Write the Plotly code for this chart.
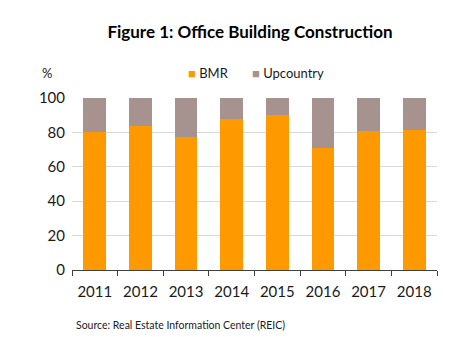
import plotly.graph_objects as go

years = ["2011", "2012", "2013", "2014", "2015", "2016", "2017", "2018"]
bmr = [80, 84, 77.5, 88, 90, 71, 81, 81.5]
upcountry = [round(100 - v, 1) for v in bmr]
series_names = ["BMR", "Upcountry"]
series_colors = ["#FF9900", "#A6928F"]

FONT = "Lato, 'Open Sans', sans-serif"

fig = go.Figure()
fig.add_trace(go.Bar(x=years, y=bmr, name=series_names[0], marker_color=series_colors[0],
                     marker_line_width=0))
fig.add_trace(go.Bar(x=years, y=upcountry, name=series_names[1], marker_color=series_colors[1],
                     marker_line_width=0))

fig.update_layout(
    barmode="stack",
    bargap=0.5,
    width=467, height=337,
    autosize=False,
    margin=dict(l=72, r=30, t=98, b=67, autoexpand=False),
    paper_bgcolor="white", plot_bgcolor="white",
    font=dict(family=FONT, color="#1a1a1a", size=15),
    title=dict(text="<b>Figure 1: Office Building Construction</b>",
               x=250/467, xanchor="center", xref="container",
               y=1 - 32/337, yanchor="middle", yref="container",
               font=dict(size=17, family=FONT, color="#000000")),
    showlegend=False,
)
fig.update_xaxes(showgrid=False, showline=True, linecolor="#404040", linewidth=1,
                 ticks="outside", tickson="boundaries", ticklen=5, tickcolor="#404040",
                 tickfont=dict(size=15), tickangle=0, automargin=False,
                 ticklabelstandoff=8)
fig.update_yaxes(range=[0, 100], dtick=20, showgrid=True, gridcolor="#d9d9d9",
                 gridwidth=1, zeroline=False, showline=False, tickfont=dict(size=15),
                 ticks="", ticklabelstandoff=6, automargin=False)

LEG_Y = (270 - 73) / 172
def px(xpix):
    return (xpix - 72) / 365

# legend drawn as text (colored squares + names)
leg_x = [186, 250]
for xp, name, col in zip(leg_x, series_names, series_colors):
    fig.add_annotation(text=f"<span style='color:{col}'>■</span> {name}",
                       xref="paper", yref="paper", x=px(xp), y=LEG_Y,
                       xanchor="left", yanchor="middle", showarrow=False,
                       font=dict(size=13, family=FONT, color="#1a1a1a"))

fig.add_annotation(text="%", xref="paper", yref="paper", x=-0.05, y=LEG_Y,
                   xanchor="right", yanchor="middle", showarrow=False,
                   font=dict(size=13, family=FONT))
fig.add_annotation(text="Source: Real Estate Information Center (REIC)",
                   xref="paper", yref="paper", x=px(74), y=-(325-270)/172,
                   xanchor="left", yanchor="middle", showarrow=False,
                   font=dict(size=10.5, family=FONT, color="#1a1a1a"))

fig.write_html("out.html")
